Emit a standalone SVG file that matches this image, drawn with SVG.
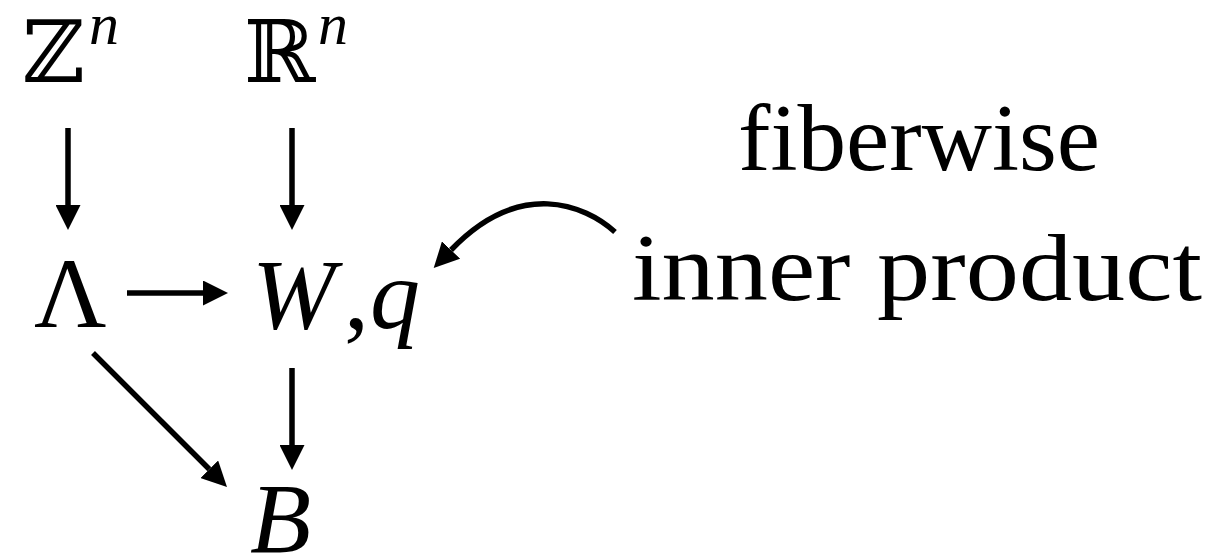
<svg xmlns="http://www.w3.org/2000/svg" width="1213" height="554" viewBox="0 0 1213 554">
<style>
.m{font-family:"Liberation Serif","Times New Roman",serif;font-size:100px;fill:#000}
.i{font-style:italic}
.bb{font-family:"DejaVu Serif",serif;font-size:86px;fill:#000}
.sup{font-family:"Liberation Serif",serif;font-style:italic;font-size:60px;fill:#000}
.t{font-family:"Liberation Serif","Times New Roman",serif;font-size:96px;fill:#000}
.c{fill:none;stroke:#000;stroke-width:5.5}
</style>
<defs>
<marker id="ah" viewBox="0 0 25 25" refX="0" refY="12.5" markerWidth="25" markerHeight="25" markerUnits="userSpaceOnUse" orient="auto">
<path d="M0,0 L25,12.5 L0,25 z" fill="#000"/>
</marker>
</defs>
<rect width="1213" height="554" fill="#fff"/>
<g id="Zn"><text class="bb" x="22" y="82">ℤ</text><text class="sup" x="89" y="44">n</text></g>
<g id="Rn"><text class="bb" x="244" y="82">ℝ</text><text class="sup" x="318" y="44">n</text></g>
<g id="Lambda"><text class="m" x="34" y="327">Λ</text></g>
<g id="Wq"><text class="m i" x="252" y="328">W</text><text class="m" x="344" y="328">,</text><text class="m i" x="370" y="328">q</text></g>
<g id="B"><text class="m i" x="250" y="552">B</text></g>
<g id="label"><text class="t" x="738" y="170" textLength="362" lengthAdjust="spacingAndGlyphs">fiberwise</text><text class="t" x="632" y="300" textLength="570" lengthAdjust="spacingAndGlyphs">inner product</text></g>
<g id="connectors">
<path class="c" d="M68,128 V205" marker-end="url(#ah)"/>
<path class="c" d="M292,128 V205" marker-end="url(#ah)"/>
<path class="c" d="M127,293 H203" marker-end="url(#ah)"/>
<path class="c" d="M292,368 V445" marker-end="url(#ah)"/>
<path class="c" d="M93,353 L209.3,469.3" marker-end="url(#ah)"/>
<path class="c" d="M615,232 C585,205 520,178 451,250" marker-end="url(#ah)"/>
</g>
</svg>
